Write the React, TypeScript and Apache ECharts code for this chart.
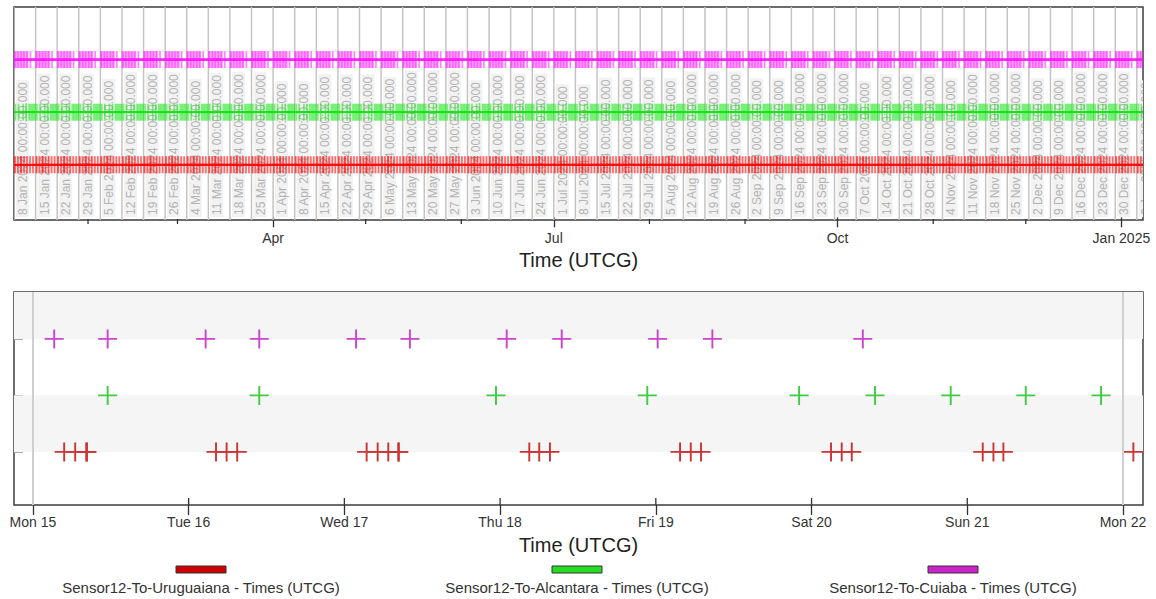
import React, { useEffect, useRef } from 'react';
import * as echarts from 'echarts';

// ---------- data ----------
const seriesNames = [
  'Sensor12-To-Uruguaiana - Times (UTCG)',
  'Sensor12-To-Alcantara - Times (UTCG)',
  'Sensor12-To-Cuiaba - Times (UTCG)',
];
const overviewColors = ['#ff1010', '#11e611', '#ff1aff'];
const detailColors = ['#cc3333', '#40cc40', '#cc44cc'];
const legendColors = ['#d00000', '#22dd22', '#cc22cc'];

// access times (UTC) in the detailed week, 15 - 22 Jan 2024
const uruguaianaTimes = [
  '2024-01-15T04:49', '2024-01-15T06:31', '2024-01-15T08:13', '2024-01-15T08:20',
  '2024-01-16T04:13', '2024-01-16T05:51', '2024-01-16T07:29',
  '2024-01-17T03:26', '2024-01-17T05:08', '2024-01-17T06:46', '2024-01-17T08:18', '2024-01-17T08:24',
  '2024-01-18T04:30', '2024-01-18T06:02', '2024-01-18T07:41',
  '2024-01-19T03:44', '2024-01-19T05:23', '2024-01-19T06:58',
  '2024-01-20T03:00', '2024-01-20T04:39', '2024-01-20T06:12',
  '2024-01-21T02:23', '2024-01-21T04:02', '2024-01-21T05:34',
  '2024-01-22T01:36',
];
const alcantaraTimes = [
  '2024-01-15T11:31', '2024-01-16T10:53', '2024-01-17T23:22', '2024-01-18T22:41',
  '2024-01-19T22:05', '2024-01-20T09:47', '2024-01-20T21:27', '2024-01-21T09:01',
  '2024-01-21T20:37',
];
const cuiabaTimes = [
  '2024-01-15T03:17', '2024-01-15T11:31', '2024-01-16T02:37', '2024-01-16T10:53',
  '2024-01-17T01:48', '2024-01-17T10:06', '2024-01-18T01:01', '2024-01-18T09:30',
  '2024-01-19T00:17', '2024-01-19T08:43', '2024-01-20T07:54',
];
const seriesTimes = [uruguaianaTimes, alcantaraTimes, cuiabaTimes];
const rowValues = [1, 2, 3];

// weekly grid lines of the overview (their rotated labels)
const weekStarts = [
  '2024-01-08', '2024-01-15', '2024-01-22', '2024-01-29', '2024-02-05', '2024-02-12', '2024-02-19',
  '2024-02-26', '2024-03-04', '2024-03-11', '2024-03-18', '2024-03-25', '2024-04-01', '2024-04-08',
  '2024-04-15', '2024-04-22', '2024-04-29', '2024-05-06', '2024-05-13', '2024-05-20', '2024-05-27',
  '2024-06-03', '2024-06-10', '2024-06-17', '2024-06-24', '2024-07-01', '2024-07-08', '2024-07-15',
  '2024-07-22', '2024-07-29', '2024-08-05', '2024-08-12', '2024-08-19', '2024-08-26', '2024-09-02',
  '2024-09-09', '2024-09-16', '2024-09-23', '2024-09-30', '2024-10-07', '2024-10-14', '2024-10-21',
  '2024-10-28', '2024-11-04', '2024-11-11', '2024-11-18', '2024-11-25', '2024-12-02', '2024-12-09',
  '2024-12-16', '2024-12-23', '2024-12-30', '2025-01-06',
];
const monthNames = ['Jan', 'Feb', 'Mar', 'Apr', 'May', 'Jun', 'Jul', 'Aug', 'Sep', 'Oct', 'Nov', 'Dec'];

// overview axis ticks
const overviewTickDates = ['2024-04-01', '2024-07-01', '2024-10-01', '2025-01-01'];
const overviewTickLabels = ['Apr', 'Jul', 'Oct', 'Jan 2025'];
const overviewMinorTickDates = ['2024-02-01', '2024-03-01', '2024-05-01', '2024-06-01', '2024-08-01', '2024-09-01', '2024-11-01', '2024-12-01'];

// detail axis ticks
const detailTickDates = ['2024-01-15', '2024-01-16', '2024-01-17', '2024-01-18', '2024-01-19', '2024-01-20', '2024-01-21', '2024-01-22'];
const detailTickLabels = ['Mon 15', 'Tue 16', 'Wed 17', 'Thu 18', 'Fri 19', 'Sat 20', 'Sun 21', 'Mon 22'];
const detailWeekLines = ['2024-01-15', '2024-01-22'];

const overviewRange = ['2024-01-08T00:00', '2025-01-08T00:00'];
const detailRange = ['2024-01-14T21:05', '2024-01-22T03:05'];
const detailWeekStart = '2024-01-15T00:00';

// ---------- helpers ----------
const t = (s: string) => Date.parse((s.length === 10 ? s + 'T00:00' : s) + ':00Z');
const DAY = 86400000;
const CROSS = 'path://M9,0H11V9H20V11H11V20H9V11H0V9H9Z';
const FONT = '"Liberation Sans", Arial, sans-serif';

function weekLabel(iso: string) {
  const d = new Date(t(iso));
  return `${d.getUTCDate()} ${monthNames[d.getUTCMonth()]} ${d.getUTCFullYear()} 00:00:00.000`;
}

export default function App() {
  const ref = useRef<HTMLDivElement>(null);

  useEffect(() => {
    if (!ref.current) return;
    const chart = echarts.init(ref.current, undefined, { renderer: 'svg' });

    const w0 = t(detailWeekStart);
    // overview: the access pattern observed in the detailed week, placed in every labelled week
    const overviewData = seriesTimes.map((times, si) => {
      const offsets = times.map((s) => t(s) - w0).filter((o) => o < 7 * DAY);
      const pts: number[][] = [];
      weekStarts.forEach((w) => offsets.forEach((o) => pts.push([t(w) + o, rowValues[si]])));
      return pts;
    });

    const overviewSeries = overviewData.map((data, i) => ({
      type: 'custom',
      name: seriesNames[i] + ' overview',
      xAxisIndex: 0,
      yAxisIndex: 0,
      clip: true,
      silent: true,
      z: 3,
      data,
      renderItem: (params: any, api: any) => {
        const [x, y] = api.coord([api.value(0), api.value(1)]);
        const h = 8.5;
        const th = 1.7;
        const style = { fill: overviewColors[i], opacity: i === 0 ? 0.28 : 0.55 };
        return {
          type: 'group',
          children: [
            { type: 'rect', shape: { x: x - h, y: y - th / 2, width: 2 * h, height: th }, style },
            { type: 'rect', shape: { x: x - th / 2, y: y - h, width: th, height: 2 * h }, style },
          ],
        };
      },
    }));

    const detailSeries = seriesTimes.map((times, i) => ({
      type: 'scatter',
      name: seriesNames[i],
      xAxisIndex: 1,
      yAxisIndex: 1,
      symbol: CROSS,
      symbolSize: 19,
      data: times.map((s) => [t(s), rowValues[i]]),
      z: 3,
      silent: true,
      itemStyle: { color: detailColors[i], opacity: 1 },
    }));

    const weekLineSeries = {
      type: 'custom',
      xAxisIndex: 0,
      yAxisIndex: 0,
      clip: true,
      silent: true,
      z: 1,
      data: weekStarts.map((w) => [t(w)]),
      renderItem: (params: any, api: any) => {
        const x = api.coord([api.value(0), 0])[0];
        const cs = params.coordSys;
        return {
          type: 'group',
          children: [
            {
              type: 'line',
              shape: { x1: x, y1: cs.y, x2: x, y2: cs.y + cs.height },
              style: { stroke: '#c4c4c4', lineWidth: 1.5 },
            },
            {
              type: 'text',
              x: x + 2,
              y: cs.y + cs.height - 3,
              rotation: Math.PI / 2,
              style: {
                text: weekLabel(weekStarts[params.dataIndex]),
                fill: '#b4b4b4',
                font: `12px ${FONT}`,
                align: 'left',
                verticalAlign: 'top',
                backgroundColor: '#f2f2f2',
                padding: [1, 2, 0, 2],
              },
            },
          ],
        };
      },
    };

    // month minor ticks under the overview axis
    const minorTickSeries = {
      type: 'custom',
      xAxisIndex: 0,
      yAxisIndex: 0,
      clip: false,
      silent: true,
      z: 4,
      data: overviewMinorTickDates.map((d) => [t(d)]),
      renderItem: (params: any, api: any) => {
        const x = api.coord([api.value(0), 0])[0];
        const cs = params.coordSys;
        const yb = cs.y + cs.height;
        return {
          type: 'line',
          shape: { x1: x, y1: yb - 1, x2: x, y2: yb + 4 },
          style: { stroke: '#333', lineWidth: 1.3 },
        };
      },
    };

    const bandSeries = {
      type: 'scatter',
      xAxisIndex: 1,
      yAxisIndex: 1,
      symbolSize: 0,
      data: [[t(detailRange[0]), -5]],
      z: 1,
      silent: true,
      markArea: {
        silent: true,
        itemStyle: { color: '#f5f5f5' },
        data: [
          [{ yAxis: 1 }, { yAxis: 2 }],
          [{ yAxis: 3 }, { yAxis: 3.83 }],
        ],
      },
      markLine: {
        silent: true,
        symbol: ['none', 'none'],
        label: { show: false },
        lineStyle: { color: '#cfcfcf', width: 2, type: 'solid' },
        data: detailWeekLines.map((d) => ({ xAxis: t(d) })),
      },
    };

    // day ticks also cross into the detail plot
    const innerTickSeries = {
      type: 'custom',
      xAxisIndex: 1,
      yAxisIndex: 1,
      clip: false,
      silent: true,
      z: 4,
      data: detailTickDates.map((d) => [t(d)]),
      renderItem: (params: any, api: any) => {
        const x = api.coord([api.value(0), 0])[0];
        const cs = params.coordSys;
        const yb = cs.y + cs.height;
        return {
          type: 'line',
          shape: { x1: x, y1: yb - 7, x2: x, y2: yb },
          style: { stroke: '#333', lineWidth: 1.3 },
        };
      },
    };

    const tickStyle = { color: '#333', width: 1.3 };
    const labelStyle = { fontSize: 14, color: '#333', fontFamily: FONT };
    const nameStyle = { fontSize: 20, color: '#222', fontFamily: FONT };

    const overviewTicks = overviewTickDates.map(t);
    const detailTicks = detailTickDates.map(t);

    const option: any = {
      animation: false,
      textStyle: { fontFamily: FONT },
      grid: [
        { left: 14, top: 7, width: 1129, height: 213, show: true, borderColor: '#3c3c3c', borderWidth: 1.5, backgroundColor: '#fff' },
        { left: 14, top: 292, width: 1129, height: 213, show: true, borderColor: '#3c3c3c', borderWidth: 1.5, backgroundColor: '#fff' },
      ],
      xAxis: [
        {
          type: 'value', gridIndex: 0, position: 'bottom', min: t(overviewRange[0]), max: t(overviewRange[1]),
          axisLine: { show: false }, splitLine: { show: false },
          axisTick: { show: true, customValues: overviewTicks, length: 10, lineStyle: tickStyle },
          axisLabel: {
            show: true, customValues: overviewTicks, margin: 11, ...labelStyle,
            formatter: (v: number) => overviewTickLabels[overviewTicks.indexOf(v)] ?? '',
          },
          name: 'Time (UTCG)', nameLocation: 'middle', nameGap: 30, nameTextStyle: nameStyle,
        },
        {
          type: 'value', gridIndex: 1, position: 'bottom', min: t(detailRange[0]), max: t(detailRange[1]),
          axisLine: { show: false }, splitLine: { show: false },
          axisTick: { show: true, customValues: detailTicks, length: 10, lineStyle: tickStyle },
          axisLabel: {
            show: true, customValues: detailTicks, margin: 10, ...labelStyle,
            formatter: (v: number) => detailTickLabels[detailTicks.indexOf(v)] ?? '',
          },
          name: 'Time (UTCG)', nameLocation: 'middle', nameGap: 30, nameTextStyle: nameStyle,
        },
      ],
      yAxis: [
        {
          type: 'value', gridIndex: 0, min: -0.05, max: 4.0,
          axisLine: { show: false }, axisTick: { show: false }, axisLabel: { show: false }, splitLine: { show: false },
        },
        {
          type: 'value', gridIndex: 1, min: 0.06, max: 3.83,
          axisLine: { show: false }, axisLabel: { show: false }, splitLine: { show: false },
          axisTick: { show: true, inside: true, customValues: rowValues, length: 9, lineStyle: { color: '#aaa', width: 1 } },
        },
      ],
      graphic: seriesNames.flatMap((name, i) => {
        const cx = [201, 577, 953][i];
        return [
          { type: 'rect', shape: { x: cx - 25, y: 566, width: 50, height: 7 }, style: { fill: legendColors[i], stroke: '#333', lineWidth: 1 } },
          { type: 'text', x: cx, y: 587, style: { text: name, fill: '#333', font: `15px ${FONT}`, align: 'center', verticalAlign: 'middle' } },
        ];
      }),
      series: [weekLineSeries, ...overviewSeries, minorTickSeries, bandSeries, innerTickSeries, ...detailSeries],
    };

    chart.setOption(option);
    return () => chart.dispose();
  }, []);

  return <div ref={ref} style={{ position: 'fixed', left: 0, top: 0, width: 1156, height: 599, background: '#fff' }} />;
}
